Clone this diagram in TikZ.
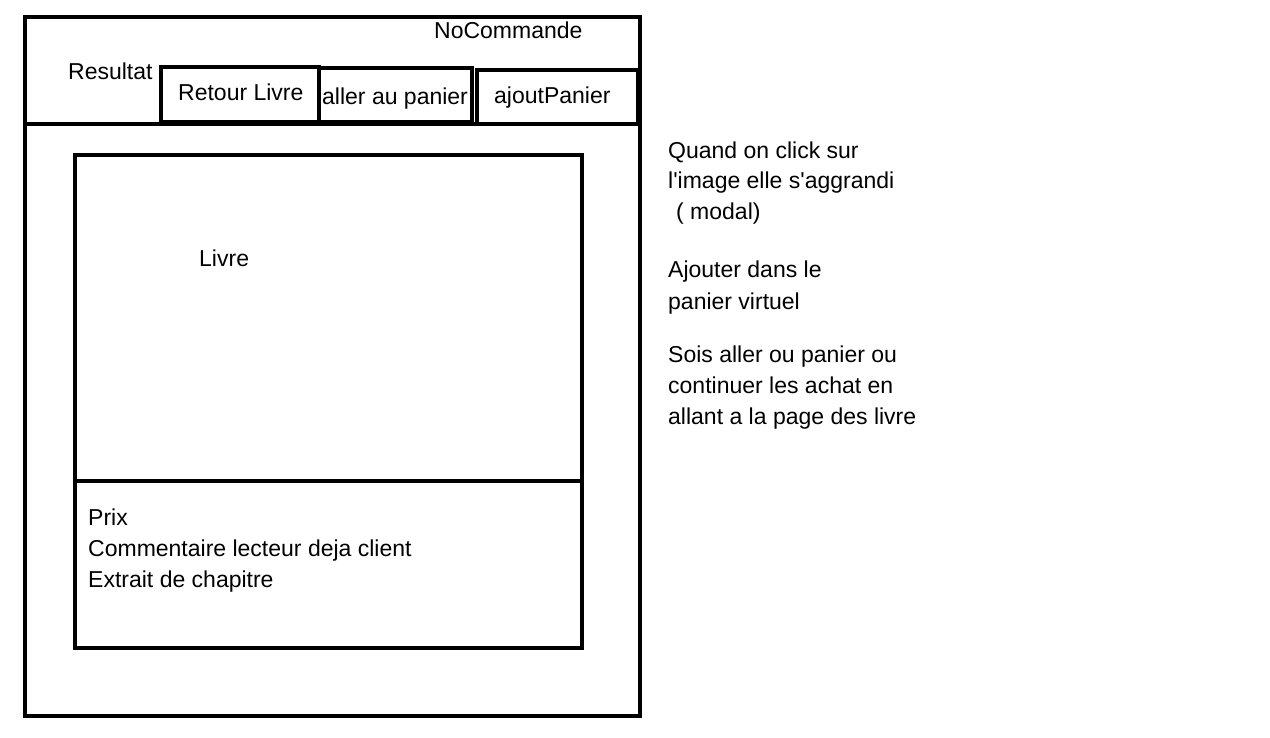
\documentclass[tikz,border=0pt]{standalone}
\usepackage{fontspec}
\newfontfamily\arial{Liberation Sans}
\tikzset{
  frame/.style={draw=black, line width=4pt, rectangle, inner sep=0pt, outer sep=0pt, anchor=north west},
  txt/.style={inner sep=0pt, anchor=base west, font=\arial\fontsize{23}{31}\selectfont}
}
\begin{document}
\begin{tikzpicture}[x=1pt,y=-1pt]
\useasboundingbox[fill=white] (0,0) rectangle (1270,738);
% outer page
\node[frame, minimum width=615, minimum height=699] (page) at (25,17) {};
\draw[line width=4pt] (page.west |- 0,124) coordinate (hl) -- (page.east |- 0,124) coordinate (hr);
% header buttons
\node[frame, minimum width=158, minimum height=55] (retour) at (161,67) {};
\node[frame, minimum width=153, minimum height=54] (aller) at (319,68) {};
\node[frame, minimum width=161, minimum height=54] (ajout) at (477,70) {};
% book area
\node[frame, minimum width=507, minimum height=493] (livre) at (75,155) {};
\draw[line width=4pt] (livre.west |- 0,481) coordinate (dl) -- (livre.east |- 0,481) coordinate (dr);
% texts
\node[txt] (nocmd) at (434,39) {NoCommande};
\node[txt] (res) at (68,80) {Resultat};
\node[txt] (tretour) at (178,101) {Retour Livre};
\node[txt] (taller) at (322,105) {aller au panier};
\node[txt] (tajout) at (494,104) {ajoutPanier};
\node[txt] (tlivre) at (199,267) {Livre};
\node[txt] (prix) at (88,525) {Prix};
\node[txt] (comm) at (88,556) {Commentaire lecteur deja client};
\node[txt] (extr) at (88,587) {Extrait de chapitre};
% notes
\node[txt] (n1) at (668,159) {Quand on click sur};
\node[txt] (n2) at (668,189) {l'image elle s'aggrandi};
\node[txt] (n3) at (676,220) {( modal)};
\node[txt] (n4) at (668,278) {Ajouter dans le};
\node[txt] (n5) at (668,309) {panier virtuel};
\node[txt] (n6) at (668,362) {Sois aller ou panier ou};
\node[txt] (n7) at (668,393) {continuer les achat en};
\node[txt] (n8) at (668,424) {allant a la page des livre};
\end{tikzpicture}
\end{document}
